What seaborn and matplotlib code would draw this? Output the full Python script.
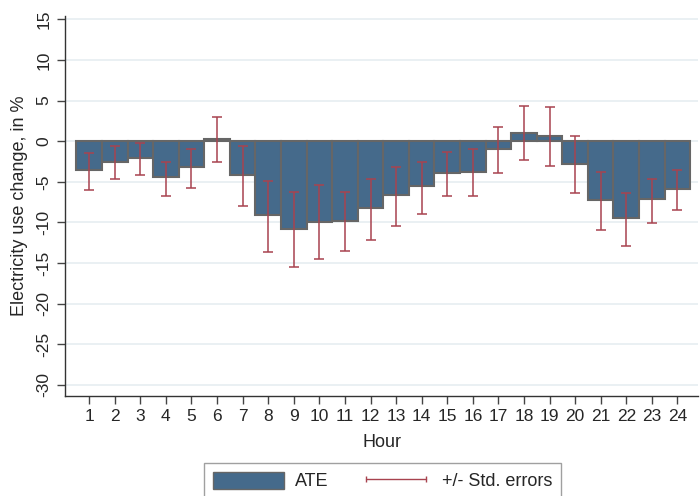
import matplotlib
matplotlib.use("Agg")
import matplotlib.pyplot as plt
import seaborn as sns
import pandas as pd
import numpy as np
from matplotlib.patches import Patch
from matplotlib.lines import Line2D

hours = list(range(1, 25))
ate = [-3.6, -2.5, -2.05, -4.4, -3.2, 0.25, -4.2, -9.1, -10.8, -9.9, -9.8, -8.2,
       -6.6, -5.5, -3.9, -3.8, -1.0, 1.0, 0.65, -2.8, -7.2, -9.5, -7.1, -5.9]
err_upper = [-1.5, -0.6, -0.2, -2.5, -0.9, 3.0, -0.65, -4.9, -6.3, -5.45, -6.3, -4.7,
             -3.2, -2.5, -1.3, -0.9, 1.8, 4.3, 4.15, 0.6, -3.85, -6.35, -4.6, -3.5]
err_lower = [-6.0, -4.7, -4.1, -6.7, -5.7, -2.5, -8.0, -13.6, -15.5, -14.5, -13.5, -12.2,
             -10.45, -8.9, -6.8, -6.8, -3.9, -2.3, -3.0, -6.35, -10.9, -12.9, -10.1, -8.5]
yticks = list(range(-30, 20, 5))

sns.set_style("white")
plt.rcParams['font.family'] = ['Liberation Sans', 'DejaVu Sans']

df = pd.DataFrame({"Hour": hours, "ATE": ate})

fig = plt.figure(figsize=(7, 4.96), dpi=100)
ax = fig.add_axes([0.093, 0.2026, 0.904, 0.765])

for y in yticks:
    ax.axhline(y, color="#e6edf1", lw=1.2, zorder=0)

sns.barplot(data=df, x="Hour", y="ATE", native_scale=True, width=1.0,
            color="#456a8b", saturation=1, edgecolor="#666666", linewidth=1.5,
            ax=ax, zorder=2)

mid = [(u + l) / 2 for u, l in zip(err_upper, err_lower)]
half = [(u - l) / 2 for u, l in zip(err_upper, err_lower)]
ax.errorbar(hours, mid, yerr=half, fmt="none", ecolor="#a8434f", elinewidth=1.1,
            capsize=3.3, capthick=1.1, zorder=3)

ax.set_xlim(0.06, 24.8)
ax.set_ylim(-31.3, 15.4)
ax.set_yticks(yticks)
ax.set_yticklabels([str(t) for t in yticks], rotation=90, va="center", fontsize=12.5)
ax.set_xticks(hours)
ax.set_xticklabels([str(h) for h in hours], fontsize=12.5)
ax.tick_params(axis="both", length=6, width=1, color="#444444", direction="out",
               bottom=True, left=True, pad=4)
for s in ["top", "right"]:
    ax.spines[s].set_visible(False)
for s in ["left", "bottom"]:
    ax.spines[s].set_color("#333333")
    ax.spines[s].set_linewidth(1)
ax.set_xlabel("Hour", fontsize=13, labelpad=7)
ax.set_ylabel("Electricity use change, in %", fontsize=13, labelpad=6)

handles = [Patch(facecolor="#456a8b", edgecolor="#666666", linewidth=1),
           Line2D([0], [0], color="#a8434f", lw=1, marker="|", markersize=5)]
leg = fig.legend(handles, ["ATE", "+/- Std. errors"], loc="center",
                 bbox_to_anchor=(0.547, 0.03), ncol=2, frameon=True, fancybox=False,
                 edgecolor="#888888", fontsize=13, numpoints=2, handlelength=3.9,
                 handleheight=1.05, handletextpad=0.6, columnspacing=1.8,
                 borderpad=0.5, borderaxespad=0)
leg.get_frame().set_linewidth(1)

fig.savefig("out.png", dpi=100)
